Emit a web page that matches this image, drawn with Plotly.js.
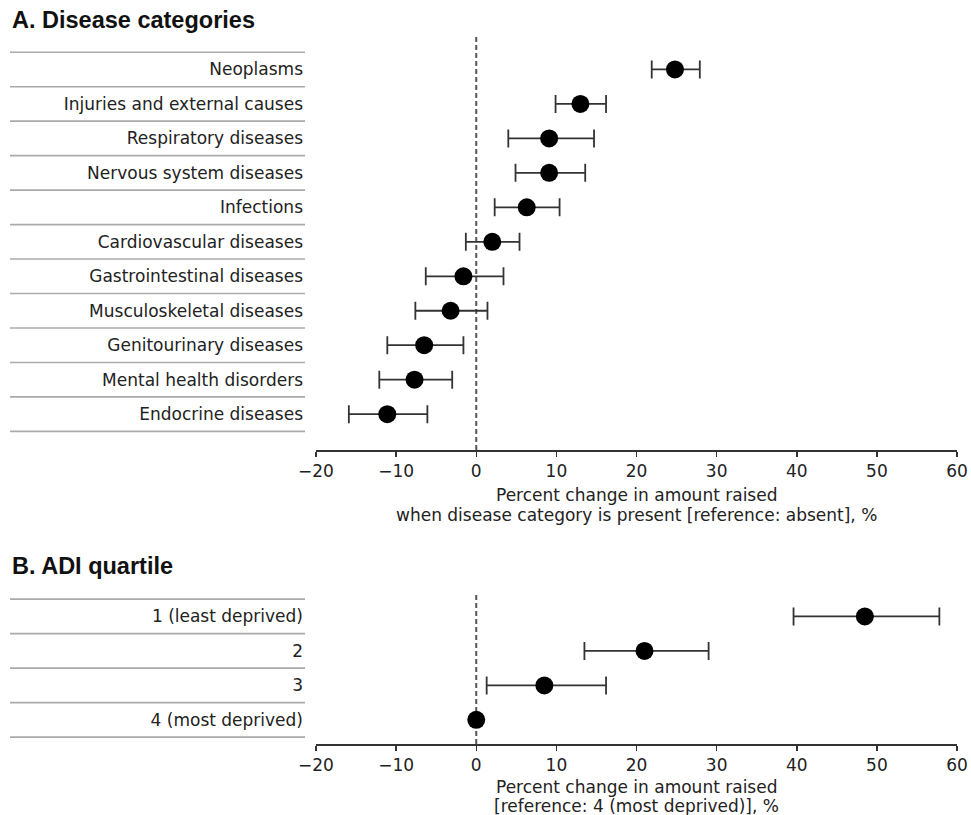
<!DOCTYPE html>
<html>
<head>
<meta charset="utf-8">
<script src="https://cdn.plot.ly/plotly-3.0.1.min.js"></script>
<style>html,body{margin:0;padding:0;background:#fff;}#chart{width:971px;height:815px;}</style>
</head>
<body>
<div id="chart"></div>
<script>
// ---- Data: Panel A (disease categories) ----
const catsA = ['Neoplasms', 'Injuries and external causes', 'Respiratory diseases', 'Nervous system diseases', 'Infections', 'Cardiovascular diseases', 'Gastrointestinal diseases', 'Musculoskeletal diseases', 'Genitourinary diseases', 'Mental health disorders', 'Endocrine diseases'];
const estA  = [24.8, 13.0, 9.1, 9.1, 6.3, 2.0, -1.6, -3.2, -6.5, -7.7, -11.1];
const lowA  = [21.9, 9.9, 4.0, 4.9, 2.3, -1.3, -6.3, -7.6, -11.1, -12.1, -15.9];
const highA = [27.9, 16.2, 14.7, 13.6, 10.4, 5.4, 3.4, 1.4, -1.6, -3.0, -6.1];

// ---- Data: Panel B (ADI quartile) ----
const catsB = ['1 (least deprived)', '2', '3', '4 (most deprived)'];
const estB  = [48.5, 21.0, 8.5, 0];
const lowB  = [39.6, 13.5, 1.3, null];
const highB = [57.8, 29.0, 16.2, null];

const xTicks = [-20, -10, 0, 10, 20, 30, 40, 50, 60];

const titleA = 'A. Disease categories';
const titleB = 'B. ADI quartile';
const xTitleA = ['Percent change in amount raised', 'when disease category is present [reference: absent], %'];
const xTitleB = ['Percent change in amount raised', '[reference: 4 (most deprived)], %'];

// ---- Build ----
const W = 971, H = 815, L = 316, R = 14;
const plotW = W - L - R;
const px2paperX = p => (p - L) / plotW;
const py2paperY = p => 1 - p / H;

const idxA = catsA.map((c, i) => i);
const idxB = catsB.map((c, i) => i);

function errs(est, low, high) {
  return {
    plus: est.map((e, i) => high[i] == null ? NaN : high[i] - e),
    minus: est.map((e, i) => low[i] == null ? NaN : e - low[i])
  };
}
const eA = errs(estA, lowA, highA);
const eB = errs(estB, lowB, highB);

function trace(est, idx, e, xa, ya) {
  return {
    type: 'scatter', mode: 'markers', x: est, y: idx, xaxis: xa, yaxis: ya,
    marker: {color: '#000', size: 18, symbol: 'circle'},
    error_x: {type: 'data', symmetric: false, array: e.plus, arrayminus: e.minus,
              color: '#333', thickness: 1.8, width: 9},
    showlegend: false, hoverinfo: 'x+y', cliponaxis: false
  };
}

const tickFont = {family: 'DejaVu Sans', size: 17, color: '#222'};

const shapes = [];
function separators(n, yref) {
  for (let k = 0; k <= n; k++) {
    shapes.push({type: 'line', xref: 'paper', yref: yref,
      x0: px2paperX(10), x1: px2paperX(305), y0: k - 0.5, y1: k - 0.5,
      line: {color: '#aaaaaa', width: 1.6}});
  }
}
separators(catsA.length, 'y');
separators(catsB.length, 'y2');
shapes.push({type: 'line', xref: 'x', yref: 'y domain', x0: 0, x1: 0, y0: 0, y1: 1,
  line: {color: '#555', width: 2, dash: '5px,3px'}, layer: 'below'});
shapes.push({type: 'line', xref: 'x2', yref: 'y2 domain', x0: 0, x1: 0, y0: 0, y1: 1,
  line: {color: '#555', width: 2, dash: '5px,3px'}, layer: 'below'});

function xaxis(domainAnchor) {
  return {
    anchor: domainAnchor, domain: [0, 1], range: [-20, 60], tickvals: xTicks,
    ticktext: xTicks.map(v => v < 0 ? '\u2212' + Math.abs(v) : String(v)),
    showline: true, linecolor: '#333', linewidth: 1.5, ticks: 'outside', ticklen: 5,
    tickcolor: '#333', tickwidth: 1.5, showgrid: false, zeroline: false,
    tickfont: tickFont, fixedrange: true
  };
}
function yaxis(domain, range, idx, cats, anchor) {
  return {
    anchor: anchor, domain: domain, range: range, tickvals: idx, ticktext: cats,
    showline: false, showgrid: false, zeroline: false, ticks: '',
    tickfont: tickFont, ticklabelstandoff: 12, fixedrange: true
  };
}

const centerX = 0.5;
function textAnn(text, x, yPx, anchor, font) {
  return {text: text, xref: 'paper', yref: 'paper', x: x, y: py2paperY(yPx),
    xanchor: anchor, yanchor: 'middle', showarrow: false, font: font};
}
const axFont = {family: 'DejaVu Sans', size: 17, color: '#222'};
const hFont = {family: 'Liberation Sans', size: 23.5, color: '#111'};

const layout = {
  width: W, height: H, margin: {l: L, r: R, t: 0, b: 0},
  paper_bgcolor: '#fff', plot_bgcolor: '#fff',
  xaxis: xaxis('y'),
  yaxis: yaxis([py2paperY(450), py2paperY(35)], [11.04, -1.0], idxA, catsA, 'x'),
  xaxis2: xaxis('y2'),
  yaxis2: yaxis([py2paperY(744), py2paperY(594)], [3.70, -0.65], idxB, catsB, 'x2'),
  shapes: shapes,
  annotations: [
    textAnn('<b>' + titleA + '</b>', px2paperX(10), 20, 'left', hFont),
    textAnn('<b>' + titleB + '</b>', px2paperX(10), 566, 'left', hFont),
    textAnn(xTitleA[0], centerX, 495, 'center', axFont),
    textAnn(xTitleA[1], centerX, 515, 'center', axFont),
    textAnn(xTitleB[0], centerX, 787, 'center', axFont),
    textAnn(xTitleB[1], centerX, 806, 'center', axFont)
  ]
};

Plotly.newPlot('chart', [
  trace(estA, idxA, eA, 'x', 'y'),
  trace(estB, idxB, eB, 'x2', 'y2')
], layout, {displayModeBar: false, staticPlot: true});
</script>
</body>
</html>
